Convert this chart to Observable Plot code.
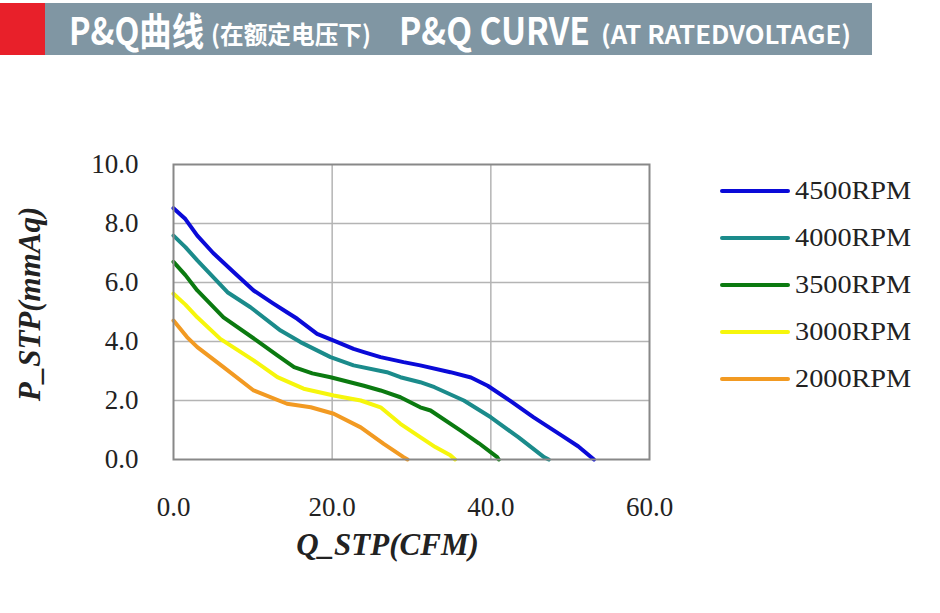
<!DOCTYPE html>
<html>
<head>
<meta charset="utf-8">
<script src="https://cdn.jsdelivr.net/npm/d3@7"></script>
<script src="https://cdn.jsdelivr.net/npm/@observablehq/plot@0.6"></script>
<style>
  html, body { margin: 0; padding: 0; background: #fff; }
  #wrap { position: relative; width: 940px; height: 613px; overflow: hidden; }
  #header { position: absolute; left: 0; top: 0; }
  #chart { position: absolute; left: 0; top: 55px; }
  #legend { position: absolute; left: 0; top: 0; width: 940px; height: 613px; pointer-events: none; }
  .lg-row { position: absolute; left: 720px; height: 30px; display: flex; align-items: center; }
  .lg-line { width: 70px; height: 4px; border-radius: 2px; }
  .lg-text { margin-left: 5px; font-family: "Liberation Serif", "Times New Roman", serif; font-size: 25px; color: #222; white-space: nowrap; display: inline-block; transform: scaleX(1.13); transform-origin: left center; }
</style>
</head>
<body>
<div id="wrap">
  <svg id="header" width="940" height="55" xmlns="http://www.w3.org/2000/svg">
    <rect x="0" y="3" width="45" height="52" fill="#e8202a"></rect>
    <rect x="45" y="3" width="827" height="52" fill="#8096a3"></rect>
    <g fill="#fff" font-weight="bold" font-family="'Noto Sans CJK SC', 'Open Sans', sans-serif">
      <text x="69" y="45" font-size="38" textLength="135" lengthAdjust="spacingAndGlyphs">P&amp;Q曲线</text>
      <text x="211" y="44" font-size="25" textLength="160" lengthAdjust="spacingAndGlyphs">(在额定电压下)</text>
      <text x="399" y="45" font-size="38" textLength="191" lengthAdjust="spacingAndGlyphs">P&amp;Q CURVE</text>
      <text x="601" y="44" font-size="25" textLength="250" lengthAdjust="spacingAndGlyphs">(AT RATEDVOLTAGE)</text>
    </g>
  </svg>
  <div id="chart"></div>
  <div id="legend"></div>
</div>
<script>
// ---- data ----
const series = ["4500RPM", "4000RPM", "3500RPM", "3000RPM", "2000RPM"];
const colors = ["#0a0ad8", "#1b8b8b", "#0b7a10", "#f6f60c", "#f29a22"];

const q4500 = [0, 1.5, 3.0, 5.0, 7.6, 10.1, 12.5, 14.3, 15.6, 18.1, 20.2, 22.7, 24.0, 26.1, 29.0, 31.1, 34.9, 37.5, 39.6, 42.5, 45.4, 49.0, 51.0, 53.0];
const p4500 = [8.52, 8.15, 7.59, 7.0, 6.35, 5.73, 5.3, 4.99, 4.77, 4.26, 4.03, 3.75, 3.64, 3.47, 3.3, 3.19, 2.96, 2.78, 2.5, 1.98, 1.43, 0.8, 0.45, 0];

const q4000 = [0, 1.5, 3.0, 6.8, 9.7, 13.5, 16.0, 19.8, 22.7, 26.9, 28.6, 31.1, 32.9, 36.6, 40.0, 43.5, 46.7, 47.3];
const p4000 = [7.59, 7.2, 6.75, 5.67, 5.16, 4.37, 3.98, 3.47, 3.19, 2.96, 2.79, 2.62, 2.45, 2.0, 1.43, 0.75, 0.08, 0];

const q3500 = [0, 1.5, 3.0, 6.3, 10.5, 13.0, 15.2, 17.5, 19.8, 24.0, 26.1, 28.6, 31.1, 32.4, 36.2, 38.5, 40.8, 41.0];
const p3500 = [6.7, 6.25, 5.73, 4.82, 4.03, 3.55, 3.13, 2.92, 2.79, 2.5, 2.34, 2.11, 1.77, 1.66, 0.98, 0.55, 0.08, 0];

const q3000 = [0, 1.5, 3.0, 5.9, 10.1, 13.1, 16.4, 20.2, 23.6, 26.1, 28.6, 31.1, 33.0, 34.9, 35.5];
const p3000 = [5.62, 5.25, 4.82, 4.09, 3.36, 2.79, 2.4, 2.17, 2.0, 1.77, 1.21, 0.76, 0.42, 0.14, 0];

const q2000 = [0, 1.7, 3.0, 6.3, 10.1, 14.3, 17.3, 20.2, 23.6, 26.5, 29.0, 29.5];
const p2000 = [4.71, 4.15, 3.81, 3.13, 2.34, 1.89, 1.77, 1.55, 1.09, 0.53, 0.08, 0];

const xTicks = [0, 20, 40, 60];
const yTicks = [0, 2, 4, 6, 8, 10];
const xTitle = "Q_STP(CFM)";
const yTitle = "P_STP(mmAq)";

// ---- build table ----
const qs = [q4500, q4000, q3500, q3000, q2000];
const ps = [p4500, p4000, p3500, p3000, p2000];
const data = [];
series.forEach((s, i) => qs[i].forEach((q, j) => data.push({series: s, q, p: ps[i][j]})));

const fmt = d => d.toFixed(1);
const serif = "Liberation Serif";

const chart = Plot.plot({
  width: 940,
  height: 558,
  marginTop: 109,
  marginBottom: 154,
  marginLeft: 173,
  marginRight: 291,
  style: {fontFamily: serif, fontSize: "26px", color: "#222", background: "transparent"},
  x: {domain: [0, 60]},
  y: {domain: [0, 10]},
  color: {domain: series, range: colors},
  marks: [
    Plot.gridX([20, 40], {stroke: "#b4b4b4", strokeOpacity: 1, strokeWidth: 1.5}),
    Plot.gridY([2, 4, 6, 8], {stroke: "#b4b4b4", strokeOpacity: 1, strokeWidth: 1.5}),
    Plot.line(data, {x: "q", y: "p", z: "series", stroke: "series", strokeWidth: 4, strokeLinejoin: "round", strokeLinecap: "round", curve: "linear"}),
    Plot.frame({stroke: "#888", strokeWidth: 2}),
    Plot.axisX(xTicks, {tickSize: 0, tickPadding: 37, tickFormat: fmt, label: null, fontSize: 27, fontFamily: serif, fill: "#222"}),
    Plot.axisY(yTicks, {tickSize: 0, tickPadding: 35, tickFormat: fmt, label: null, fontSize: 27, fontFamily: serif, fill: "#222"}),
    Plot.text([xTitle], {frameAnchor: "bottom", dx: -24, dy: 95, text: d => d, fontSize: 31, fontWeight: "bold", fontStyle: "italic", fontFamily: serif, fill: "#222"}),
    Plot.text([yTitle], {frameAnchor: "left", textAnchor: "middle", dx: -143, dy: -8, text: d => d, rotate: -90, fontSize: 31, fontWeight: "bold", fontStyle: "italic", fontFamily: serif, fill: "#222"})
  ]
});
document.getElementById("chart").appendChild(chart);

// ---- legend ----
const legendTops = [191, 238, 285, 332, 379];
const lg = document.getElementById("legend");
series.forEach((s, i) => {
  const row = document.createElement("div");
  row.className = "lg-row";
  row.style.top = (legendTops[i] - 15) + "px";
  const ln = document.createElement("div");
  ln.className = "lg-line";
  ln.style.background = colors[i];
  const tx = document.createElement("span");
  tx.className = "lg-text";
  tx.textContent = s;
  row.appendChild(ln);
  row.appendChild(tx);
  lg.appendChild(row);
});
</script>
</body>
</html>
